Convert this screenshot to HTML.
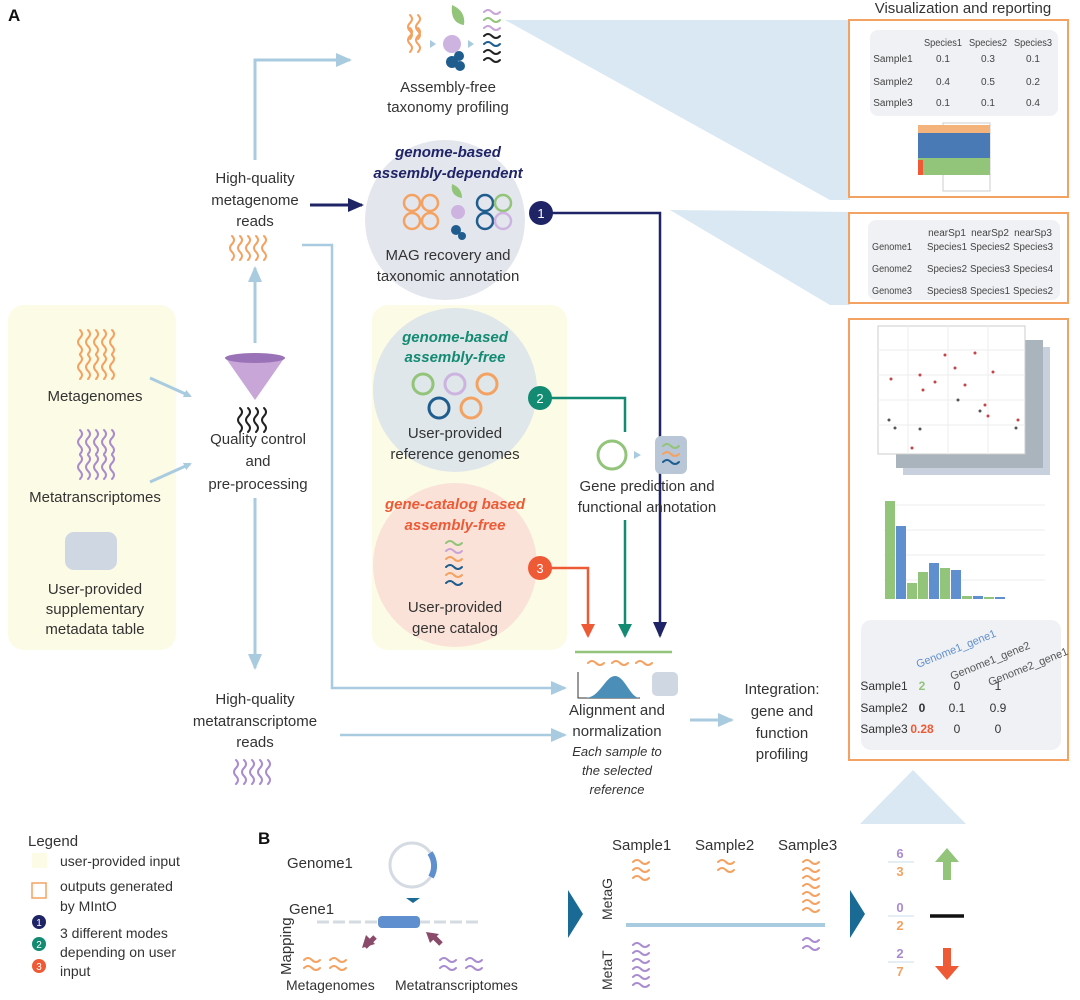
<!DOCTYPE html>
<html><head><meta charset="utf-8"><style>
html,body{margin:0;padding:0;background:#fff;}
svg{display:block;font-family:"Liberation Sans",sans-serif;}
</style></head><body>
<svg width="1080" height="1000" viewBox="0 0 1080 1000" xmlns="http://www.w3.org/2000/svg">
<defs>
<path id="vw" d="M0,0 q4,4 0,8 q-4,4 0,8 q4,4 0,8" fill="none" stroke-width="2" stroke-linecap="round"/>
<path id="hw" d="M0,0 q4,-4 8,0 q4,4 8,0" fill="none" stroke-width="2" stroke-linecap="round"/>
<marker id="ab" markerWidth="8" markerHeight="8" refX="6" refY="4" orient="auto" markerUnits="userSpaceOnUse"><path d="M0,0 L8,4 L0,8z" fill="#a9cbe0"/></marker>
<marker id="abL" markerWidth="16" markerHeight="14" refX="14" refY="7" orient="auto" markerUnits="userSpaceOnUse"><path d="M0,0 L16,7 L0,14z" fill="#a9cbe0"/></marker>
<marker id="an" markerWidth="16" markerHeight="14" refX="14" refY="7" orient="auto" markerUnits="userSpaceOnUse"><path d="M0,0 L16,7 L0,14z" fill="#1f2466"/></marker>
<marker id="at" markerWidth="14" markerHeight="14" refX="12" refY="7" orient="auto" markerUnits="userSpaceOnUse"><path d="M0,0 L14,7 L0,14z" fill="#138a72"/></marker>
<marker id="ar" markerWidth="14" markerHeight="14" refX="12" refY="7" orient="auto" markerUnits="userSpaceOnUse"><path d="M0,0 L14,7 L0,14z" fill="#ee5a36"/></marker>
</defs>

<!-- wedges -->
<polygon points="505,20 850,20 850,200 830,200" fill="#d9e8f2"/>
<polygon points="670,210 850,212 850,305 830,305" fill="#d9e8f2"/>
<polygon points="848,318 848,760 862,760" fill="#d9e8f2"/>
<polygon points="860,824 966,824 913,770" fill="#d9e8f2"/>

<text x="8" y="21" font-size="17" font-weight="bold" fill="#111">A</text>

<!-- Left yellow box -->
<rect x="8" y="305" width="168" height="345" rx="16" fill="#fbfbe6"/>
<g stroke="#f4a261">
<use href="#vw" x="80" y="330"/><use href="#vw" x="88" y="330"/><use href="#vw" x="96" y="330"/><use href="#vw" x="104" y="330"/><use href="#vw" x="112" y="330"/>
<use href="#vw" x="80" y="355"/><use href="#vw" x="88" y="355"/><use href="#vw" x="96" y="355"/><use href="#vw" x="104" y="355"/><use href="#vw" x="112" y="355"/>
</g>
<text x="95" y="401" font-size="15" text-anchor="middle" fill="#333">Metagenomes</text>
<g stroke="#a98cd0">
<use href="#vw" x="80" y="430"/><use href="#vw" x="88" y="430"/><use href="#vw" x="96" y="430"/><use href="#vw" x="104" y="430"/><use href="#vw" x="112" y="430"/>
<use href="#vw" x="80" y="455"/><use href="#vw" x="88" y="455"/><use href="#vw" x="96" y="455"/><use href="#vw" x="104" y="455"/><use href="#vw" x="112" y="455"/>
</g>
<text x="95" y="502" font-size="15" text-anchor="middle" fill="#333">Metatranscriptomes</text>
<rect x="65" y="532" width="52" height="38" rx="9" fill="#cfd7e3"/>
<text x="95" y="594" font-size="15" text-anchor="middle" fill="#333">User-provided</text>
<text x="95" y="614" font-size="15" text-anchor="middle" fill="#333">supplementary</text>
<text x="95" y="634" font-size="15" text-anchor="middle" fill="#333">metadata table</text>

<line x1="150" y1="378" x2="190" y2="396" stroke="#a9cbe0" stroke-width="3" marker-end="url(#ab)"/>
<line x1="150" y1="482" x2="190" y2="464" stroke="#a9cbe0" stroke-width="3" marker-end="url(#ab)"/>

<!-- funnel -->
<path d="M225,357 L285,357 L255,400 z" fill="#c8a6d8"/>
<ellipse cx="255" cy="358" rx="30" ry="5" fill="#9a72b8"/>
<g stroke="#222"><use href="#vw" x="240" y="408"/><use href="#vw" x="248" y="408"/><use href="#vw" x="256" y="408"/><use href="#vw" x="264" y="408"/></g>
<text x="258" y="444" font-size="15" text-anchor="middle" fill="#333">Quality control</text>
<text x="258" y="466" font-size="15" text-anchor="middle" fill="#333">and</text>
<text x="258" y="489" font-size="15" text-anchor="middle" fill="#333">pre-processing</text>

<line x1="255" y1="343" x2="255" y2="268" stroke="#a9cbe0" stroke-width="3" marker-end="url(#abL)"/>
<line x1="255" y1="498" x2="255" y2="668" stroke="#a9cbe0" stroke-width="3" marker-end="url(#abL)"/>
<polyline points="255,160 255,60 350,60" fill="none" stroke="#a9cbe0" stroke-width="3" marker-end="url(#abL)"/>

<text x="255" y="183" font-size="15" text-anchor="middle" fill="#333">High-quality</text>
<text x="255" y="205" font-size="15" text-anchor="middle" fill="#333">metagenome</text>
<text x="255" y="226" font-size="15" text-anchor="middle" fill="#333">reads</text>
<g stroke="#f4a261"><use href="#vw" x="232" y="236"/><use href="#vw" x="240" y="236"/><use href="#vw" x="248" y="236"/><use href="#vw" x="256" y="236"/><use href="#vw" x="264" y="236"/></g>
<line x1="310" y1="205" x2="362" y2="205" stroke="#1f2466" stroke-width="3" marker-end="url(#an)"/>
<polyline points="302,245 332,245 332,688 565,688" fill="none" stroke="#a9cbe0" stroke-width="2.5" marker-end="url(#abL)"/>

<text x="255" y="704" font-size="15" text-anchor="middle" fill="#333">High-quality</text>
<text x="255" y="726" font-size="15" text-anchor="middle" fill="#333">metatranscriptome</text>
<text x="255" y="747" font-size="15" text-anchor="middle" fill="#333">reads</text>
<g stroke="#a98cd0"><use href="#vw" x="236" y="760"/><use href="#vw" x="244" y="760"/><use href="#vw" x="252" y="760"/><use href="#vw" x="260" y="760"/><use href="#vw" x="268" y="760"/></g>
<line x1="340" y1="735" x2="565" y2="735" stroke="#a9cbe0" stroke-width="2.5" marker-end="url(#abL)"/>

<!-- taxonomy profiling -->
<g stroke="#f4a261"><use href="#vw" x="410" y="15"/><use href="#vw" x="410" y="28"/><use href="#vw" x="418" y="15"/><use href="#vw" x="418" y="28"/></g>
<path d="M430,40 l6,4 l-6,4z" fill="#a9cbe0"/>
<path d="M452,5 q14,6 12,20 q-14,-2 -12,-20z" fill="#92c47a"/>
<circle cx="452" cy="44" r="9" fill="#cdb4e0"/>
<circle cx="452" cy="62" r="6" fill="#1f5d8f"/><circle cx="459" cy="56" r="5" fill="#1f5d8f"/><circle cx="460" cy="66" r="5" fill="#1f5d8f"/>
<path d="M468,40 l6,4 l-6,4z" fill="#a9cbe0"/>
<g><use href="#hw" x="484" y="12" stroke="#c9a4d8"/><use href="#hw" x="484" y="20" stroke="#92c47a"/><use href="#hw" x="484" y="28" stroke="#c9a4d8"/><use href="#hw" x="484" y="36" stroke="#222"/><use href="#hw" x="484" y="44" stroke="#1f5d8f"/><use href="#hw" x="484" y="52" stroke="#222"/><use href="#hw" x="484" y="60" stroke="#222"/></g>
<text x="448" y="92" font-size="15" text-anchor="middle" fill="#333">Assembly-free</text>
<text x="448" y="112" font-size="15" text-anchor="middle" fill="#333">taxonomy profiling</text>

<!-- gray circle -->
<circle cx="445" cy="220" r="80" fill="#e4e6ee"/>
<text x="448" y="157" font-size="15" font-weight="bold" font-style="italic" text-anchor="middle" fill="#1f2466">genome-based</text>
<text x="448" y="178" font-size="15" font-weight="bold" font-style="italic" text-anchor="middle" fill="#1f2466">assembly-dependent</text>
<g fill="none" stroke="#f4a261" stroke-width="2.5"><circle cx="412" cy="203" r="8"/><circle cx="430" cy="203" r="8"/><circle cx="412" cy="221" r="8"/><circle cx="430" cy="221" r="8"/></g>
<path d="M452,184 q10,4 10,14 q-12,-2 -10,-14z" fill="#92c47a"/>
<circle cx="458" cy="212" r="7" fill="#cdb4e0"/>
<circle cx="456" cy="230" r="5" fill="#1f5d8f"/><circle cx="462" cy="236" r="4" fill="#1f5d8f"/>
<g fill="none" stroke-width="2.5"><circle cx="485" cy="203" r="8" stroke="#1f5d8f"/><circle cx="503" cy="203" r="8" stroke="#92c47a"/><circle cx="485" cy="221" r="8" stroke="#1f5d8f"/><circle cx="503" cy="221" r="8" stroke="#cdb4e0"/></g>
<text x="448" y="260" font-size="15" text-anchor="middle" fill="#333">MAG recovery and</text>
<text x="448" y="281" font-size="15" text-anchor="middle" fill="#333">taxonomic annotation</text>

<!-- middle yellow box -->
<rect x="372" y="305" width="195" height="345" rx="16" fill="#fbfbe6"/>
<circle cx="455" cy="390" r="82" fill="#dfe7ea"/>
<circle cx="455" cy="565" r="82" fill="#fbe2d8"/>
<text x="455" y="342" font-size="15" font-weight="bold" font-style="italic" text-anchor="middle" fill="#138a72">genome-based</text>
<text x="455" y="362" font-size="15" font-weight="bold" font-style="italic" text-anchor="middle" fill="#138a72">assembly-free</text>
<g fill="none" stroke-width="3"><circle cx="423" cy="384" r="10" stroke="#92c47a"/><circle cx="455" cy="384" r="10" stroke="#cdb4e0"/><circle cx="487" cy="384" r="10" stroke="#f4a261"/><circle cx="439" cy="408" r="10" stroke="#1f5d8f"/><circle cx="471" cy="408" r="10" stroke="#f4a261"/></g>
<text x="455" y="438" font-size="15" text-anchor="middle" fill="#333">User-provided</text>
<text x="455" y="459" font-size="15" text-anchor="middle" fill="#333">reference genomes</text>
<text x="455" y="509" font-size="15" font-weight="bold" font-style="italic" text-anchor="middle" fill="#ee5a36">gene-catalog based</text>
<text x="455" y="530" font-size="15" font-weight="bold" font-style="italic" text-anchor="middle" fill="#ee5a36">assembly-free</text>
<g><use href="#hw" x="446" y="543" stroke="#92c47a"/><use href="#hw" x="446" y="551" stroke="#c9a4d8"/><use href="#hw" x="446" y="559" stroke="#f4a261"/><use href="#hw" x="446" y="567" stroke="#1f5d8f"/><use href="#hw" x="446" y="575" stroke="#f4a261"/><use href="#hw" x="446" y="583" stroke="#1f5d8f"/></g>
<text x="455" y="612" font-size="15" text-anchor="middle" fill="#333">User-provided</text>
<text x="455" y="633" font-size="15" text-anchor="middle" fill="#333">gene catalog</text>

<!-- numbered connectors -->
<polyline points="541,213 660,213 660,636" fill="none" stroke="#1f2466" stroke-width="2.5" marker-end="url(#an)"/>
<circle cx="541" cy="213" r="12" fill="#1f2466"/><text x="541" y="218" font-size="13" text-anchor="middle" fill="#fff">1</text>
<polyline points="540,398 625,398 625,432" fill="none" stroke="#138a72" stroke-width="2.5"/>
<line x1="625" y1="520" x2="625" y2="636" stroke="#138a72" stroke-width="2.5" marker-end="url(#at)"/>
<circle cx="540" cy="398" r="12" fill="#138a72"/><text x="540" y="403" font-size="13" text-anchor="middle" fill="#fff">2</text>
<polyline points="540,568 588,568 588,636" fill="none" stroke="#ee5a36" stroke-width="2.5" marker-end="url(#ar)"/>
<circle cx="540" cy="568" r="12" fill="#ee5a36"/><text x="540" y="573" font-size="13" text-anchor="middle" fill="#fff">3</text>

<!-- gene prediction -->
<circle cx="612" cy="455" r="14" fill="#fff" stroke="#92c47a" stroke-width="3"/>
<path d="M634,451 l7,4 l-7,4z" fill="#a9cbe0"/>
<rect x="655" y="436" width="32" height="38" rx="6" fill="#b9c6d8"/>
<g><use href="#hw" x="663" y="446" stroke="#92c47a"/><use href="#hw" x="663" y="454" stroke="#f4a261"/><use href="#hw" x="663" y="462" stroke="#1f5d8f"/></g>
<text x="647" y="491" font-size="15" text-anchor="middle" fill="#333">Gene prediction and</text>
<text x="647" y="512" font-size="15" text-anchor="middle" fill="#333">functional annotation</text>

<!-- alignment -->
<line x1="575" y1="652" x2="672" y2="652" stroke="#92c47a" stroke-width="2.5"/>
<g stroke="#f4a261"><use href="#hw" x="588" y="663"/><use href="#hw" x="612" y="663"/><use href="#hw" x="636" y="663"/></g>
<polyline points="578,672 578,698 640,698" fill="none" stroke="#333" stroke-width="1"/>
<path d="M585,698 C600,698 605,676 615,676 C625,676 630,698 640,698z" fill="#4b8fb8"/>
<rect x="652" y="672" width="26" height="24" rx="5" fill="#cfd7e3"/>
<text x="617" y="715" font-size="15" text-anchor="middle" fill="#333">Alignment and</text>
<text x="617" y="736" font-size="15" text-anchor="middle" fill="#333">normalization</text>
<text x="617" y="756" font-size="13" font-style="italic" text-anchor="middle" fill="#333">Each sample to</text>
<text x="617" y="775" font-size="13" font-style="italic" text-anchor="middle" fill="#333">the selected</text>
<text x="617" y="794" font-size="13" font-style="italic" text-anchor="middle" fill="#333">reference</text>
<line x1="690" y1="720" x2="732" y2="720" stroke="#a9cbe0" stroke-width="3" marker-end="url(#abL)"/>
<text x="782" y="694" font-size="15" text-anchor="middle" fill="#333">Integration:</text>
<text x="782" y="716" font-size="15" text-anchor="middle" fill="#333">gene and</text>
<text x="782" y="738" font-size="15" text-anchor="middle" fill="#333">function</text>
<text x="782" y="759" font-size="15" text-anchor="middle" fill="#333">profiling</text>

<!-- right panel -->
<text x="963" y="13" font-size="15" text-anchor="middle" fill="#333">Visualization and reporting</text>
<rect x="849" y="20" width="219" height="177" fill="#fff" stroke="#f4a261" stroke-width="2"/>
<rect x="870" y="30" width="188" height="86" rx="8" fill="#f0f1f4"/>
<g font-size="10" fill="#444" text-anchor="middle">
<text x="943" y="46" textLength="38" lengthAdjust="spacingAndGlyphs">Species1</text><text x="988" y="46" textLength="38" lengthAdjust="spacingAndGlyphs">Species2</text><text x="1033" y="46" textLength="38" lengthAdjust="spacingAndGlyphs">Species3</text>
<text x="893" y="62">Sample1</text><text x="943" y="62">0.1</text><text x="988" y="62">0.3</text><text x="1033" y="62">0.1</text>
<text x="893" y="85">Sample2</text><text x="943" y="85">0.4</text><text x="988" y="85">0.5</text><text x="1033" y="85">0.2</text>
<text x="893" y="106">Sample3</text><text x="943" y="106">0.1</text><text x="988" y="106">0.1</text><text x="1033" y="106">0.4</text>
</g>
<rect x="943" y="123" width="47" height="68" fill="#fff" stroke="#ccc"/>
<g>
<rect x="918" y="125" width="72" height="50" fill="#4a7ab5"/>
<rect x="918" y="158" width="72" height="17" fill="#92c47a"/>
<rect x="918" y="125" width="72" height="8" fill="#f4b37a"/>
<rect x="918" y="160" width="5" height="15" fill="#ee5a36"/>
</g>

<rect x="849" y="213" width="219" height="90" fill="#fff" stroke="#f4a261" stroke-width="2"/>
<rect x="868" y="220" width="192" height="80" rx="8" fill="#f0f1f4"/>
<g font-size="10" fill="#444" text-anchor="middle" lengthAdjust="spacingAndGlyphs">
<text x="947" y="236">nearSp1</text><text x="990" y="236">nearSp2</text><text x="1033" y="236">nearSp3</text>
<text x="892" y="250" textLength="40" lengthAdjust="spacingAndGlyphs">Genome1</text><text x="947" y="250" textLength="40" lengthAdjust="spacingAndGlyphs">Species1</text><text x="990" y="250" textLength="40" lengthAdjust="spacingAndGlyphs">Species2</text><text x="1033" y="250" textLength="40" lengthAdjust="spacingAndGlyphs">Species3</text>
<text x="892" y="272" textLength="40" lengthAdjust="spacingAndGlyphs">Genome2</text><text x="947" y="272" textLength="40" lengthAdjust="spacingAndGlyphs">Species2</text><text x="990" y="272" textLength="40" lengthAdjust="spacingAndGlyphs">Species3</text><text x="1033" y="272" textLength="40" lengthAdjust="spacingAndGlyphs">Species4</text>
<text x="892" y="294" textLength="40" lengthAdjust="spacingAndGlyphs">Genome3</text><text x="947" y="294" textLength="40" lengthAdjust="spacingAndGlyphs">Species8</text><text x="990" y="294" textLength="40" lengthAdjust="spacingAndGlyphs">Species1</text><text x="1033" y="294" textLength="40" lengthAdjust="spacingAndGlyphs">Species2</text>
</g>

<rect x="849" y="319" width="219" height="441" fill="#fff" stroke="#f4a261" stroke-width="2"/>
<rect x="903" y="347" width="147" height="128" fill="#c8d0de"/>
<rect x="896" y="340" width="147" height="128" fill="#aab4bc"/>
<rect x="878" y="326" width="147" height="128" fill="#fff" stroke="#ccc"/>
<g stroke="#eee"><line x1="878" y1="350" x2="1025" y2="350"/><line x1="878" y1="375" x2="1025" y2="375"/><line x1="878" y1="400" x2="1025" y2="400"/><line x1="878" y1="425" x2="1025" y2="425"/><line x1="908" y1="326" x2="908" y2="454"/><line x1="948" y1="326" x2="948" y2="454"/><line x1="988" y1="326" x2="988" y2="454"/></g>
<g fill="#c0464a"><circle cx="891" cy="379" r="1.5"/><circle cx="920" cy="375" r="1.5"/><circle cx="935" cy="382" r="1.5"/><circle cx="955" cy="368" r="1.5"/><circle cx="965" cy="385" r="1.5"/><circle cx="975" cy="353" r="1.5"/><circle cx="993" cy="372" r="1.5"/><circle cx="985" cy="405" r="1.5"/><circle cx="988" cy="416" r="1.5"/><circle cx="1018" cy="420" r="1.5"/><circle cx="912" cy="448" r="1.5"/><circle cx="923" cy="390" r="1.5"/><circle cx="945" cy="355" r="1.5"/></g>
<g fill="#555"><circle cx="889" cy="420" r="1.5"/><circle cx="895" cy="428" r="1.5"/><circle cx="920" cy="429" r="1.5"/><circle cx="958" cy="400" r="1.5"/><circle cx="980" cy="411" r="1.5"/><circle cx="1016" cy="428" r="1.5"/></g>
<g stroke="#eee"><line x1="884" y1="505" x2="1045" y2="505"/><line x1="884" y1="530" x2="1045" y2="530"/><line x1="884" y1="555" x2="1045" y2="555"/><line x1="884" y1="580" x2="1045" y2="580"/></g>
<g>
<rect x="885" y="501" width="10" height="98" fill="#92c47a"/><rect x="896" y="526" width="10" height="73" fill="#5f8fcf"/>
<rect x="907" y="583" width="10" height="16" fill="#92c47a"/><rect x="918" y="572" width="10" height="27" fill="#92c47a"/>
<rect x="929" y="563" width="10" height="36" fill="#5f8fcf"/><rect x="940" y="568" width="10" height="31" fill="#92c47a"/>
<rect x="951" y="570" width="10" height="29" fill="#5f8fcf"/><rect x="962" y="596" width="10" height="3" fill="#92c47a"/>
<rect x="973" y="596" width="10" height="3" fill="#5f8fcf"/><rect x="984" y="597" width="10" height="2" fill="#92c47a"/>
<rect x="995" y="597" width="10" height="2" fill="#5f8fcf"/>
</g>
<rect x="861" y="620" width="200" height="130" rx="10" fill="#f0f1f4"/>
<g font-size="11" fill="#555">
<text x="918" y="668" transform="rotate(-22 918 668)" fill="#5f8fcf">Genome1_gene1</text>
<text x="952" y="680" transform="rotate(-22 952 680)">Genome1_gene2</text>
<text x="990" y="686" transform="rotate(-22 990 686)">Genome2_gene1</text>
</g>
<g font-size="12" fill="#333" text-anchor="middle">
<text x="884" y="690">Sample1</text><text x="922" y="690" fill="#92c47a" font-weight="bold">2</text><text x="957" y="690">0</text><text x="998" y="690">1</text>
<text x="884" y="712">Sample2</text><text x="922" y="712" font-weight="bold">0</text><text x="957" y="712">0.1</text><text x="998" y="712">0.9</text>
<text x="884" y="733">Sample3</text><text x="922" y="733" fill="#ee5a36" font-weight="bold">0.28</text><text x="957" y="733">0</text><text x="998" y="733">0</text>
</g>

<!-- legend -->
<text x="28" y="846" font-size="15" fill="#333">Legend</text>
<rect x="32" y="853" width="15" height="15" fill="#fbfbe6"/>
<text x="60" y="866" font-size="14" fill="#333">user-provided input</text>
<rect x="32" y="883" width="14" height="15" fill="none" stroke="#f4a261" stroke-width="1.5"/>
<text x="60" y="891" font-size="14" fill="#333">outputs generated</text>
<text x="60" y="911" font-size="14" fill="#333">by MIntO</text>
<circle cx="39" cy="922" r="7" fill="#1f2466"/><text x="39" y="926" font-size="10" fill="#fff" text-anchor="middle">1</text>
<circle cx="39" cy="944" r="7" fill="#138a72"/><text x="39" y="948" font-size="10" fill="#fff" text-anchor="middle">2</text>
<circle cx="39" cy="966" r="7" fill="#ee5a36"/><text x="39" y="970" font-size="10" fill="#fff" text-anchor="middle">3</text>
<text x="60" y="938" font-size="14" fill="#333">3 different modes</text>
<text x="60" y="957" font-size="14" fill="#333">depending on user</text>
<text x="60" y="976" font-size="14" fill="#333">input</text>

<!-- B -->
<text x="258" y="844" font-size="17" font-weight="bold" fill="#111">B</text>
<text x="287" y="868" font-size="15" fill="#333">Genome1</text>
<circle cx="412" cy="865" r="22" fill="none" stroke="#d5dbe2" stroke-width="3"/>
<path d="M430,853 A22,22 0 0 1 431,877" fill="none" stroke="#5f8fcf" stroke-width="6"/>
<path d="M406,898 l14,0 l-7,5z" fill="#1a6a96"/>
<text x="289" y="914" font-size="15" fill="#333">Gene1</text>
<text x="291" y="975" font-size="15" fill="#333" transform="rotate(-90 291 975)">Mapping</text>
<line x1="317" y1="922" x2="380" y2="922" stroke="#d5dbe2" stroke-width="3" stroke-dasharray="12,4"/>
<line x1="418" y1="922" x2="482" y2="922" stroke="#d5dbe2" stroke-width="3" stroke-dasharray="12,4"/>
<rect x="378" y="916" width="42" height="12" rx="4" fill="#5f8fcf"/>
<path d="M375,937 l-10,10" stroke="#8a4a6a" stroke-width="5"/>
<path d="M362,948 l4,-13 l9,9z" fill="#8a4a6a"/>
<path d="M432,935 l9,9" stroke="#8a4a6a" stroke-width="5"/>
<path d="M426,932 l13,2 l-9,9z" fill="#8a4a6a"/>
<g stroke="#f4a261"><use href="#hw" x="304" y="960"/><use href="#hw" x="304" y="968"/><use href="#hw" x="330" y="960"/><use href="#hw" x="330" y="968"/></g>
<g stroke="#a98cd0"><use href="#hw" x="440" y="960"/><use href="#hw" x="440" y="968"/><use href="#hw" x="466" y="960"/><use href="#hw" x="466" y="968"/></g>
<text x="286" y="990" font-size="14" fill="#333">Metagenomes</text>
<text x="395" y="990" font-size="14" fill="#333">Metatranscriptomes</text>

<path d="M568,890 l15,24 l-15,24z" fill="#1a6a96"/>
<g font-size="15" fill="#333"><text x="612" y="850">Sample1</text><text x="695" y="850">Sample2</text><text x="778" y="850">Sample3</text></g>
<text x="612" y="920" font-size="14" fill="#333" transform="rotate(-90 612 920)">MetaG</text>
<text x="612" y="990" font-size="14" fill="#333" transform="rotate(-90 612 990)">MetaT</text>
<line x1="626" y1="925" x2="825" y2="925" stroke="#a9cbe0" stroke-width="4"/>
<g stroke="#f4a261"><use href="#hw" x="633" y="862"/><use href="#hw" x="633" y="870"/><use href="#hw" x="633" y="878"/><use href="#hw" x="718" y="862"/><use href="#hw" x="718" y="870"/>
<use href="#hw" x="803" y="862"/><use href="#hw" x="803" y="870"/><use href="#hw" x="803" y="878"/><use href="#hw" x="803" y="886"/><use href="#hw" x="803" y="894"/><use href="#hw" x="803" y="902"/><use href="#hw" x="803" y="910"/></g>
<g stroke="#a98cd0"><use href="#hw" x="633" y="945"/><use href="#hw" x="633" y="953"/><use href="#hw" x="633" y="961"/><use href="#hw" x="633" y="969"/><use href="#hw" x="633" y="977"/><use href="#hw" x="633" y="985"/><use href="#hw" x="803" y="940"/><use href="#hw" x="803" y="948"/></g>
<path d="M850,890 l15,24 l-15,24z" fill="#1a6a96"/>
<g font-size="13" font-weight="bold" text-anchor="middle">
<text x="900" y="858" fill="#a98cd0">6</text><line x1="888" y1="862" x2="914" y2="862" stroke="#c9dcea"/><text x="900" y="876" fill="#f4a261">3</text>
<text x="900" y="912" fill="#a98cd0">0</text><line x1="888" y1="916" x2="914" y2="916" stroke="#c9dcea"/><text x="900" y="930" fill="#f4a261">2</text>
<text x="900" y="958" fill="#a98cd0">2</text><line x1="888" y1="962" x2="914" y2="962" stroke="#c9dcea"/><text x="900" y="976" fill="#f4a261">7</text>
</g>
<path d="M947,848 l-12,14 h8 v18 h8 v-18 h8z" fill="#92c47a"/>
<line x1="930" y1="916" x2="964" y2="916" stroke="#111" stroke-width="3.5"/>
<path d="M947,980 l-12,-14 h8 v-18 h8 v18 h8z" fill="#ee5a36"/>
</svg>
</body></html>
